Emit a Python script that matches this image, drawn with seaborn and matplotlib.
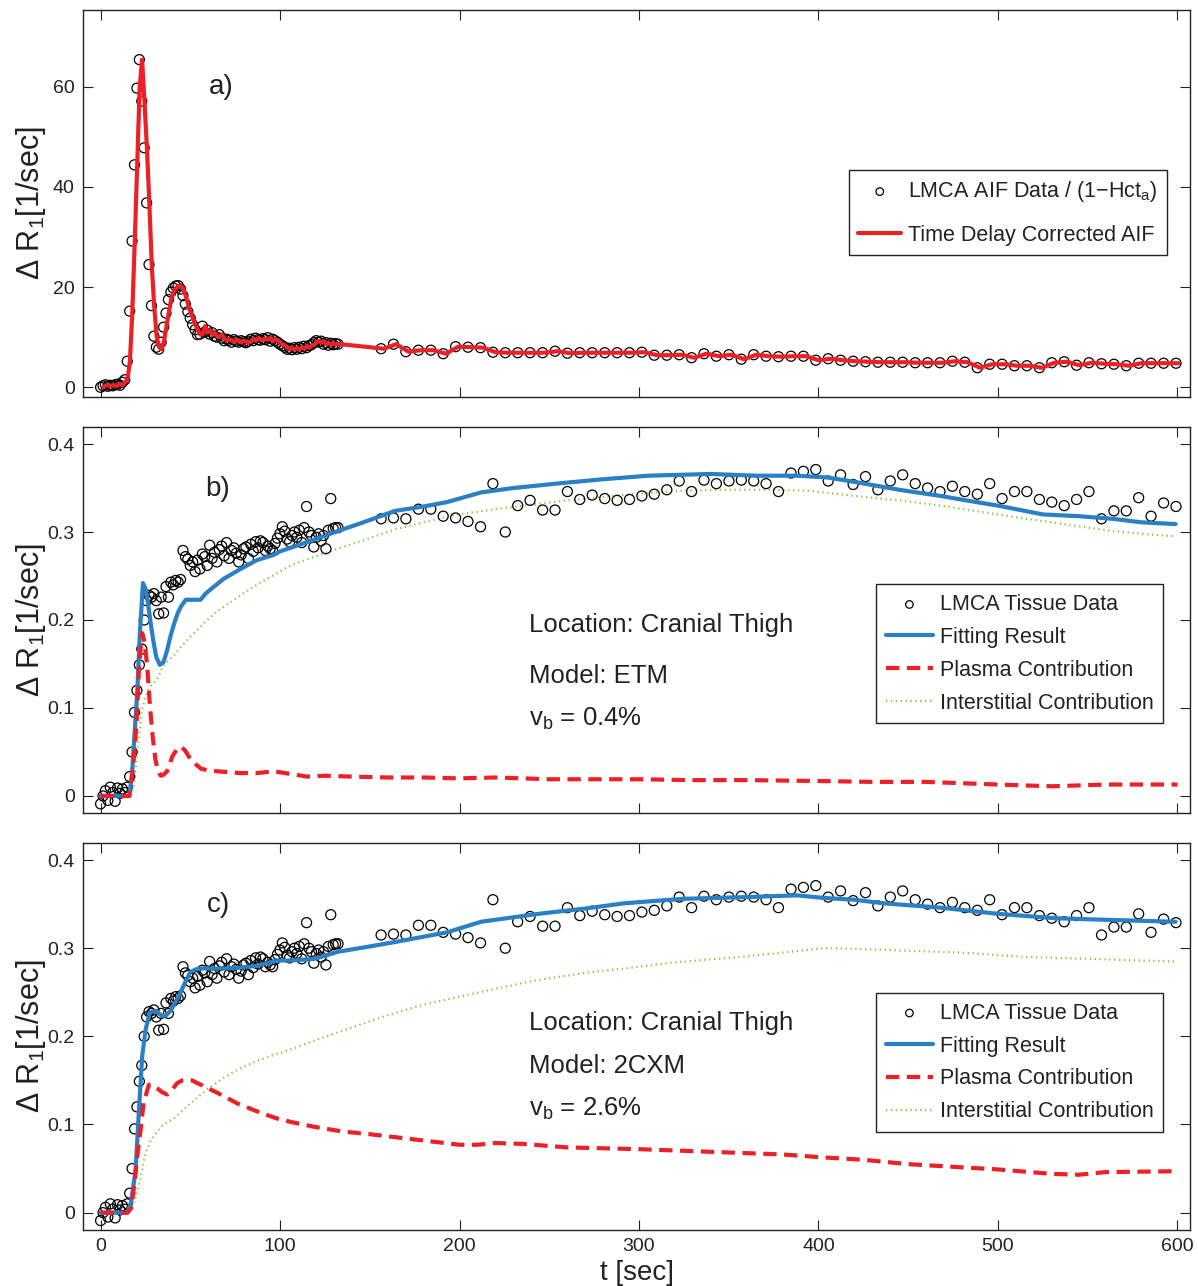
import numpy as np
import pandas as pd
import matplotlib
matplotlib.use("Agg")
import matplotlib.pyplot as plt
import seaborn as sns

# ---------------- data ----------------
# acquisition times [sec]: dense early sampling, then sparse sampling
t_dense = [0.0, 1.35, 2.7, 4.05, 5.4, 6.75, 8.1, 9.45, 10.8, 12.15,
           13.5, 14.85, 16.2, 17.55, 18.9, 20.25, 21.6, 22.95, 24.3, 25.65,
           27.0, 28.35, 29.7, 31.05, 32.4, 33.75, 35.1, 36.45, 37.8, 39.15,
           40.5, 41.85, 43.2, 44.55, 45.9, 47.25, 48.6, 49.95, 51.3, 52.65,
           54.0, 55.35, 56.7, 58.05, 59.4, 60.75, 62.1, 63.45, 64.8, 66.15,
           67.5, 68.85, 70.2, 71.55, 72.9, 74.25, 75.6, 76.95, 78.3, 79.65,
           81.0, 82.35, 83.7, 85.05, 86.4, 87.75, 89.1, 90.45, 91.8, 93.15,
           94.5, 95.85, 97.2, 98.55, 99.9, 101.25, 102.6, 103.95, 105.3, 106.65,
           108.0, 109.35, 110.7, 112.05, 113.4, 114.75, 116.1, 117.45, 118.8, 120.15,
           121.5, 122.85, 124.2, 125.55, 126.9, 128.25, 129.6, 130.95, 132.3]
t_late = [156.3, 163.2, 170.1, 177.1, 184.0, 190.9, 197.8, 204.7, 211.7, 218.6,
          225.5, 232.4, 239.3, 246.3, 253.2, 260.1, 267.0, 273.9, 280.9, 287.8,
          294.7, 301.6, 308.5, 315.5, 322.4, 329.3, 336.2, 343.1, 350.1, 357.0,
          363.9, 370.8, 377.7, 384.7, 391.6, 398.5, 405.4, 412.3, 419.3, 426.2,
          433.1, 440.0, 446.9, 453.9, 460.8, 467.7, 474.6, 481.5, 488.5, 495.4,
          502.3, 509.2, 516.1, 523.1, 530.0, 536.9, 543.8, 550.7, 557.7, 564.6,
          571.5, 578.4, 585.3, 592.3, 599.2]

# AIF data  Delta R1 [1/sec]
aif_dense = [0.0, 0.3, 0.5, 0.2, 0.4, 0.3, 0.5, 0.6, 0.4, 1.0,
             1.5, 5.2, 15.2, 29.2, 44.4, 59.7, 65.4, 57.1, 47.8, 36.8,
             24.5, 16.3, 10.2, 8.0, 7.6, 9.0, 12.0, 14.8, 17.5, 19.0,
             19.8, 20.2, 20.3, 19.6, 18.3, 16.6, 15.1, 13.8, 12.5, 11.5,
             10.5, 10.6, 12.2, 11.0, 11.4, 10.6, 10.9, 10.2, 10.0, 10.5,
             9.8, 9.3, 9.6, 9.4, 9.0, 9.5, 9.2, 9.0, 9.3, 9.1,
             8.9, 9.2, 9.6, 9.3, 9.8, 9.5, 9.4, 9.7, 9.5, 9.9,
             9.2, 9.6, 9.3, 9.0, 8.6, 8.3, 8.0, 7.6, 7.8, 7.5,
             7.9, 7.6, 8.0, 7.7, 8.2, 7.9, 8.3, 8.5, 8.9, 9.3,
             9.0, 9.2, 8.6, 8.9, 8.4, 8.8, 8.5, 8.7, 8.6]
aif_late = [7.7, 8.6, 7.1, 7.4, 7.4, 6.7, 8.1, 8.0, 7.9, 7.0,
            6.9, 6.9, 6.9, 6.9, 7.2, 6.8, 6.9, 6.9, 6.9, 6.9,
            6.9, 7.0, 6.4, 6.4, 6.5, 5.9, 6.7, 6.2, 6.5, 5.6,
            6.5, 6.2, 6.1, 6.2, 6.2, 5.4, 5.7, 5.4, 5.2, 5.1,
            5.0, 5.0, 5.0, 4.9, 4.9, 4.9, 5.2, 5.0, 3.9, 4.6,
            4.6, 4.3, 4.3, 3.9, 4.9, 5.1, 4.4, 4.9, 4.7, 4.6,
            4.3, 4.8, 4.8, 4.8, 4.8]
aif_delay = 1.5  # time-delay correction [sec]

# Tissue data Delta R1 [1/sec]
tis_dense = [-0.009, 0.000, 0.006, -0.005, 0.010, 0.004, -0.006, 0.009, 0.003, 0.008,
             0.004, 0.010, 0.022, 0.050, 0.095, 0.120, 0.149, 0.167, 0.200, 0.222,
             0.228, 0.226, 0.230, 0.222, 0.207, 0.226, 0.208, 0.238, 0.226, 0.243,
             0.240, 0.245, 0.243, 0.246, 0.279, 0.272, 0.269, 0.262, 0.266, 0.255,
             0.268, 0.258, 0.275, 0.272, 0.262, 0.285, 0.270, 0.277, 0.266, 0.280,
             0.284, 0.273, 0.288, 0.270, 0.279, 0.282, 0.276, 0.266, 0.274, 0.281,
             0.283, 0.270, 0.286, 0.278, 0.289, 0.282, 0.290, 0.288, 0.279, 0.284,
             0.281, 0.279, 0.287, 0.293, 0.298, 0.306, 0.301, 0.292, 0.289, 0.296,
             0.300, 0.294, 0.302, 0.288, 0.305, 0.329, 0.300, 0.296, 0.283, 0.294,
             0.298, 0.290, 0.296, 0.281, 0.302, 0.338, 0.304, 0.305, 0.305]
tis_late = [0.315, 0.316, 0.315, 0.326, 0.326, 0.318, 0.316, 0.312, 0.306, 0.355,
            0.300, 0.330, 0.336, 0.325, 0.325, 0.346, 0.337, 0.342, 0.338, 0.336,
            0.337, 0.341, 0.343, 0.348, 0.358, 0.346, 0.359, 0.355, 0.358, 0.359,
            0.358, 0.355, 0.346, 0.367, 0.369, 0.371, 0.358, 0.365, 0.354, 0.363,
            0.348, 0.358, 0.365, 0.355, 0.350, 0.346, 0.352, 0.346, 0.343, 0.355,
            0.338, 0.346, 0.346, 0.337, 0.334, 0.330, 0.337, 0.346, 0.315, 0.324,
            0.324, 0.339, 0.318, 0.333, 0.329]

# Panel b (ETM) model curves
fit_b_t = [0, 16, 17.5, 18.6, 20.4, 21.9, 23.6, 25, 26.5, 28,
           29.5, 31, 33, 35, 37, 39, 41, 43, 45, 47.5,
           50, 55.7, 58.5, 62, 68.7, 78, 87, 96.5, 100, 110,
           120, 132, 145, 164, 180, 193, 212, 230, 254, 280,
           305, 340, 365, 388, 405, 420, 445, 468, 485, 500,
           525, 545, 564, 580, 599]
fit_b_v = [0, 0, 0.025, 0.06, 0.117, 0.185, 0.242, 0.236, 0.218, 0.195,
           0.175, 0.158, 0.149, 0.152, 0.165, 0.182, 0.196, 0.208, 0.216, 0.223,
           0.223, 0.223, 0.230, 0.236, 0.247, 0.258, 0.268, 0.274, 0.278, 0.285,
           0.292, 0.301, 0.310, 0.324, 0.329, 0.334, 0.345, 0.350, 0.355, 0.360,
           0.364, 0.366, 0.364, 0.364, 0.362, 0.357, 0.348, 0.341, 0.335, 0.330,
           0.320, 0.318, 0.315, 0.311, 0.309]
pla_b_t = [0, 16, 18, 20, 21.5, 23.2, 24.5, 26, 27.5, 29,
           30.5, 32, 33.5, 35, 37, 40, 42.5, 44.6, 47, 50,
           53, 56, 60, 65, 72, 78, 87, 96.5, 106, 115,
           125, 140, 160, 180, 200, 220, 250, 280, 300, 330,
           360, 400, 430, 460, 500, 530, 560, 600]
pla_b_v = [0, 0, 0.03, 0.08, 0.15, 0.185, 0.175, 0.147, 0.102, 0.068,
           0.042, 0.028, 0.023, 0.024, 0.028, 0.045, 0.053, 0.056, 0.052, 0.042,
           0.036, 0.031, 0.029, 0.028, 0.027, 0.026, 0.026, 0.028, 0.025, 0.022,
           0.023, 0.022, 0.021, 0.021, 0.020, 0.021, 0.019, 0.019, 0.019, 0.018,
           0.018, 0.017, 0.016, 0.016, 0.013, 0.011, 0.013, 0.013]
int_b_t = [0, 16, 17.5, 18.6, 20, 21.3, 23.2, 26, 28, 31.6,
           35, 40.9, 45, 50.1, 55, 59.4, 65, 68.7, 78, 87,
           96.5, 105.8, 119.4, 135, 150, 164, 180, 196, 220, 240,
           260, 290, 324, 350, 372, 395, 420, 445, 468, 490,
           516, 540, 564, 580, 599]
int_b_v = [0, 0, 0.005, 0.012, 0.04, 0.065, 0.1, 0.118, 0.125, 0.133,
           0.148, 0.16, 0.17, 0.181, 0.191, 0.2, 0.21, 0.215, 0.228, 0.24,
           0.251, 0.262, 0.272, 0.283, 0.293, 0.303, 0.311, 0.319, 0.326, 0.331,
           0.336, 0.342, 0.347, 0.348, 0.348, 0.347, 0.341, 0.336, 0.330, 0.323,
           0.315, 0.308, 0.301, 0.298, 0.295]

# Panel c (2CXM) model curves
fit_c_t = [0, 15, 17, 19.5, 21.4, 23.2, 25.1, 27.5, 30.6, 32.5,
           34.3, 36.5, 39, 42, 44.6, 47.5, 50.1, 53, 55.7, 68.7,
           78, 87, 98, 105.8, 119.4, 132.3, 150, 164, 193, 212,
           244, 270, 292, 324, 360, 388, 403, 420, 436, 468,
           500, 532, 564, 599]
fit_c_v = [0, 0, 0.012, 0.048, 0.117, 0.178, 0.208, 0.227, 0.229, 0.226,
           0.223, 0.224, 0.229, 0.24, 0.25, 0.263, 0.273, 0.276, 0.277, 0.277,
           0.278, 0.280, 0.286, 0.286, 0.288, 0.296, 0.302, 0.307, 0.318, 0.330,
           0.339, 0.345, 0.351, 0.356, 0.358, 0.360, 0.357, 0.355, 0.351, 0.346,
           0.339, 0.334, 0.332, 0.330]
pla_c_t = [0, 15, 17, 19, 20.5, 22.3, 24, 26.9, 29, 31.6,
           34, 37.1, 40, 42.7, 45.5, 48.3, 51, 53.9, 58, 65,
           76.1, 87, 98, 105.8, 120, 135, 150, 175, 200, 210,
           220, 235, 260, 300, 340, 380, 400, 425, 450, 475,
           500, 530, 545, 560, 600]
pla_c_v = [0, 0, 0.005, 0.035, 0.065, 0.094, 0.125, 0.145, 0.145, 0.141,
           0.137, 0.134, 0.14, 0.147, 0.150, 0.151, 0.150, 0.147, 0.143, 0.136,
           0.124, 0.115, 0.107, 0.103, 0.097, 0.092, 0.089, 0.083, 0.077, 0.077,
           0.079, 0.078, 0.074, 0.072, 0.069, 0.066, 0.063, 0.060, 0.055, 0.052,
           0.049, 0.044, 0.043, 0.046, 0.047]
int_c_t = [0, 16, 18, 20, 22.3, 25.1, 28, 31.6, 35, 40.9,
           50.1, 59.4, 68.7, 78, 87, 96.5, 105.8, 120, 140, 160,
           180, 200, 220, 244, 270, 292, 320, 356, 380, 403,
           425, 452, 480, 516, 550, 580, 599]
int_c_v = [0, 0, 0.008, 0.02, 0.04, 0.068, 0.082, 0.092, 0.1, 0.107,
           0.124, 0.14, 0.153, 0.164, 0.172, 0.179, 0.185, 0.196, 0.21, 0.224,
           0.236, 0.245, 0.254, 0.264, 0.272, 0.277, 0.284, 0.29, 0.295, 0.300,
           0.299, 0.297, 0.295, 0.290, 0.288, 0.286, 0.285]

panel_labels = ["a)", "b)", "c)"]
location_text = "Location: Cranial Thigh"
models = ["ETM", "2CXM"]
vb_values = ["0.4%", "2.6%"]
y_ticks_a = [0, 20, 40, 60]
y_ticks_bc = [0, 0.1, 0.2, 0.3, 0.4]
x_ticks = [0, 100, 200, 300, 400, 500, 600]

# ---------------- style ----------------
sns.set_theme(style="white")
plt.rcParams["font.family"] = ["Liberation Sans", "DejaVu Sans"]
plt.rcParams["mathtext.fontset"] = "custom"
plt.rcParams["mathtext.rm"] = "Liberation Sans"
plt.rcParams["mathtext.it"] = "Liberation Sans:italic"
plt.rcParams["mathtext.bf"] = "Liberation Sans:bold"
plt.rcParams["axes.edgecolor"] = "#222222"
plt.rcParams["axes.linewidth"] = 1.0

RED = "#ec2027"
BLUE = "#2b7fc4"
GREEN = "#8cc63f"

t_all = t_dense + t_late
aif_all = aif_dense + aif_late
tis_all = tis_dense + tis_late

df_aif = pd.DataFrame({"t": t_all, "aif": aif_all})
df_aif["t_corr"] = df_aif["t"] + aif_delay
df_tis = pd.DataFrame({"t": t_all, "tis": tis_all})

fig = plt.figure(figsize=(11.98, 12.86), dpi=100)
L, W = 83 / 1198, 1107 / 1198
axa = fig.add_axes([L, 1 - 397.3 / 1286, W, 387.3 / 1286])
axb = fig.add_axes([L, 1 - 813.3 / 1286, W, 386.6 / 1286])
axc = fig.add_axes([L, 1 - 1230 / 1286, W, 387.3 / 1286])


def hollow_scatter(ax, df, ycol, label):
    sns.scatterplot(data=df, x="t", y=ycol, ax=ax, marker="o", s=52,
                    linewidth=0.9, label=label, zorder=3, legend=False)
    pc = ax.collections[-1]
    pc.set_facecolor("none")
    pc.set_edgecolor("black")
    pc.set_label(label)
    return pc


# ---- panel a ----
hollow_scatter(axa, df_aif, "aif", "LMCA AIF Data / (1\u2212Hct$_{\\mathrm{a}}$)")
sns.lineplot(data=df_aif, x="t_corr", y="aif", ax=axa, color=RED, linewidth=3.0,
             estimator=None, sort=False, label="Time Delay Corrected AIF", zorder=4)
axa.set_ylim(-2.0, 75.3)
axa.set_yticks(y_ticks_a)

# ---- panels b, c ----
curves = [
    (axb, fit_b_t, fit_b_v, pla_b_t, pla_b_v, int_b_t, int_b_v),
    (axc, fit_c_t, fit_c_v, pla_c_t, pla_c_v, int_c_t, int_c_v),
]
for ax, ft, fv, pt, pv, it, iv in curves:
    hollow_scatter(ax, df_tis, "tis", "LMCA Tissue Data")
    sns.lineplot(x=ft, y=fv, ax=ax, color=BLUE, linewidth=3.0, estimator=None,
                 sort=False, label="Fitting Result", zorder=4)
    sns.lineplot(x=pt, y=pv, ax=ax, color=RED, linewidth=3.0, estimator=None,
                 sort=False, label="Plasma Contribution", zorder=4,
                 linestyle=(0, (3.2, 1.8)))
    sns.lineplot(x=it, y=iv, ax=ax, color=GREEN, linewidth=1.6, estimator=None,
                 sort=False, label="Interstitial Contribution", zorder=2,
                 linestyle=(0, (0.6, 1.6)))
    ax.set_ylim(-0.0197, 0.4197)
    ax.set_yticks(y_ticks_bc)
    ax.set_yticklabels(["0", "0.1", "0.2", "0.3", "0.4"])

for i, ax in enumerate([axa, axb, axc]):
    ax.set_xlim(-9.8, 607)
    ax.set_xticks(x_ticks)
    ax.tick_params(direction="in", length=7, width=0.8, top=True, right=True,
                   bottom=True, left=True, labelsize=14, colors="#222222",
                   pad=6)
    ax.set_ylabel("\u0394 R$_1$[1/sec]", fontsize=22, color="#222222")
    ax.yaxis.set_label_coords(-0.032, 0.5)
    if i < 2:
        ax.set_xlabel("")
        ax.tick_params(labelbottom=False)
    else:
        ax.set_xlabel("t [sec]", fontsize=20, color="#222222", labelpad=3)
        ax.set_xticklabels([str(v) for v in x_ticks])
    for sp in ax.spines.values():
        sp.set_visible(True)
        sp.set_color("#222222")

axa.text(0.1247, 0.80, panel_labels[0], transform=axa.transAxes, fontsize=20,
         ha="center", va="center", color="#222222")
axb.text(0.122, 0.840, panel_labels[1], transform=axb.transAxes, fontsize=20,
         ha="center", va="center", color="#222222")
axc.text(0.122, 0.840, panel_labels[2], transform=axc.transAxes, fontsize=20,
         ha="center", va="center", color="#222222")

for ax, model, vb, ys in [(axb, models[0], vb_values[0], (0.488, 0.354, 0.245)),
                          (axc, models[1], vb_values[1], (0.535, 0.424, 0.313))]:
    ax.text(0.403, ys[0], location_text, transform=ax.transAxes, fontsize=18.5,
            ha="left", va="center", color="#222222")
    ax.text(0.403, ys[1], "Model: " + model, transform=ax.transAxes, fontsize=18.5,
            ha="left", va="center", color="#222222")
    ax.text(0.403, ys[2], "v$_\\mathrm{b}$ = " + vb, transform=ax.transAxes,
            fontsize=18.5, ha="left", va="center", color="#222222")

legend_kw = dict(frameon=True, fancybox=False, edgecolor="#222222", framealpha=1,
                 fontsize=15.5, borderpad=0.45, handletextpad=0.3, borderaxespad=0)
h, l = axa.get_legend_handles_labels()
lga = axa.legend(h, l, loc="upper right", bbox_to_anchor=(0.979, 0.588),
                 handlelength=2.0, labelspacing=0.95, markerscale=0.75, **legend_kw)
for ax, top in [(axb, 0.592), (axc, 0.612)]:
    h, l = ax.get_legend_handles_labels()
    lg = ax.legend(h, l, loc="upper right", bbox_to_anchor=(0.9756, top),
                   handlelength=2.2, labelspacing=0.55, markerscale=0.75,
                   **legend_kw)
for lg in [axa.get_legend(), axb.get_legend(), axc.get_legend()]:
    lg.get_frame().set_linewidth(1.0)
    for txt in lg.get_texts():
        txt.set_color("#222222")

fig.savefig("out.png", dpi=100, facecolor="white")
